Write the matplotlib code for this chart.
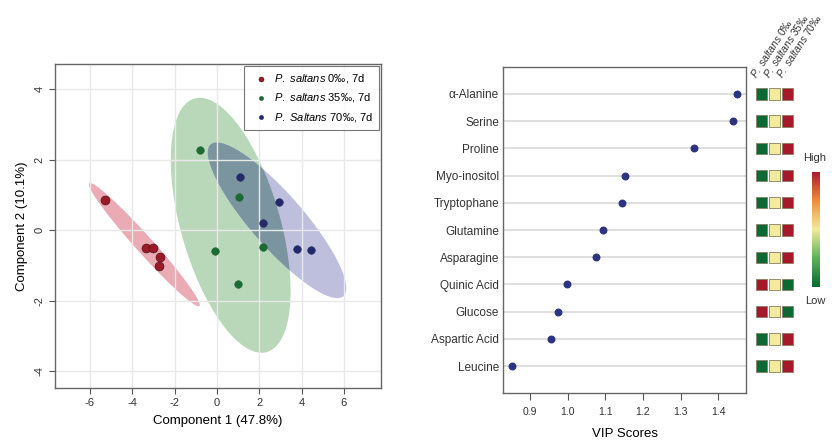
import numpy as np
import matplotlib
matplotlib.use("Agg")
import matplotlib.pyplot as plt
from matplotlib.colors import LinearSegmentedColormap
from matplotlib.patches import Rectangle

plt.rcParams["font.family"] = ["Liberation Sans", "DejaVu Sans"]
plt.rcParams["mathtext.fontset"] = "custom"
plt.rcParams["mathtext.it"] = "Liberation Sans:italic"
plt.rcParams["mathtext.rm"] = "Liberation Sans"
plt.rcParams["axes.unicode_minus"] = False

# -------- score plot data --------
groups = [r"$\it{P.\ saltans}$ 0‰, 7d", r"$\it{P.\ saltans}$ 35‰, 7d", r"$\it{P.\ Saltans}$ 70‰, 7d"]
red_x = [-5.29, -3.37, -3.01, -2.71, -2.74]
red_y = [0.85, -0.50, -0.50, -0.76, -1.01]
green_x = [-0.81, 1.05, -0.10, 2.18, 1.00]
green_y = [2.28, 0.94, -0.58, -0.48, -1.54]
blue_x = [1.08, 2.92, 2.16, 3.78, 4.46]
blue_y = [1.52, 0.81, 0.20, -0.54, -0.56]

# confidence ellipses: centre, half-extent in x / y, correlation
ell_cx = [-3.43, 0.65, 2.84]
ell_cy = [-0.41, 0.14, 0.28]
ell_rx = [2.62, 2.83, 3.27]
ell_ry = [1.75, 3.62, 2.21]
ell_rho = [-0.978, -0.515, -0.87]

# -------- VIP data --------
metabolites = ["α-Alanine", "Serine", "Proline", "Myo-inositol", "Tryptophane",
               "Glutamine", "Asparagine", "Quinic Acid", "Glucose",
               "Aspartic Acid", "Leucine"]
vip = [1.450, 1.438, 1.336, 1.151, 1.143, 1.094, 1.075, 0.999, 0.975, 0.957, 0.853]
# relative level per group (0 = low, 0.5 = mid, 1 = high)
heat = [[0.0, 0.5, 1.0], [0.0, 0.5, 1.0], [0.0, 0.5, 1.0], [0.0, 0.5, 1.0],
        [0.0, 0.5, 1.0], [0.0, 0.5, 1.0], [0.0, 0.5, 1.0], [1.0, 0.5, 0.0],
        [1.0, 0.5, 0.0], [0.0, 0.5, 1.0], [0.0, 0.5, 1.0]]
heat_cols = [r"$\it{P.\ saltans}$ 0‰", r"$\it{P.\ saltans}$ 35‰", r"$\it{P.\ saltans}$ 70‰"]

pt_colors = ["#9c1a28", "#1e6a34", "#222a6c"]
fill_colors = ["#eaabb4", "#b9d8b9", "#bdbfdc"]
overlap_color = "#7a95a0"

cmap = LinearSegmentedColormap.from_list(
    "lowhigh", ["#0a6a34", "#5fb25a", "#f3ec9c", "#f08a3a", "#a8182c"])


def ellipse_xy(cx, cy, rx, ry, rho, n=200):
    t = np.linspace(0, 2 * np.pi, n)
    x = cx + rx * np.cos(t)
    y = cy + ry * (rho * np.cos(t) + np.sqrt(1 - rho ** 2) * np.sin(t))
    return x, y


fig = plt.figure(figsize=(8.32, 4.43), dpi=100)

# ================= left: score plot =================
ax = fig.add_axes([0.0661, 0.1242, 0.3918, 0.7314])
patches = []
for i in range(3):
    ex, ey = ellipse_xy(ell_cx[i], ell_cy[i], ell_rx[i], ell_ry[i], ell_rho[i])
    p, = ax.fill(ex, ey, color=fill_colors[i], lw=0, zorder=1)
    patches.append(p)
# darker region where green and blue overlap
ex, ey = ellipse_xy(ell_cx[2], ell_cy[2], ell_rx[2], ell_ry[2], ell_rho[2])
ov, = ax.fill(ex, ey, color=overlap_color, lw=0, zorder=1)
ov.set_clip_path(patches[1])

xs = [red_x, green_x, blue_x]
ys = [red_y, green_y, blue_y]
sizes = [42, 30, 30]
for i in range(3):
    ax.scatter(xs[i], ys[i], s=sizes[i], color=pt_colors[i],
               edgecolor="#3a1010" if i == 0 else pt_colors[i],
               linewidth=0.4, zorder=3, label=groups[i])

ax.set_xlim(-7.65, 7.75)
ax.set_ylim(-4.48, 4.72)
ax.set_xticks([-6, -4, -2, 0, 2, 4, 6])
ax.set_yticks([-4, -2, 0, 2, 4])
ax.grid(True, color="#e8e8e8", lw=1.0)
ax.tick_params(labelsize=8, length=4, color="#555555", labelcolor="#333333", width=0.8)
plt.setp(ax.get_yticklabels(), rotation=90, va="center")
for s in ax.spines.values():
    s.set_color("#666666")
    s.set_linewidth(1.0)
ax.set_xlabel("Component 1 (47.8%)", fontsize=9.5, labelpad=5)
ax.set_ylabel("Component 2 (10.1%)", fontsize=9.5, labelpad=5)
leg = ax.legend(loc="upper right", fontsize=8, frameon=True, fancybox=False,
                borderaxespad=0.15, handletextpad=0.1, markerscale=0.55,
                labelspacing=0.55, borderpad=0.6)
leg.get_frame().set_edgecolor("#555555")
leg.get_frame().set_linewidth(0.8)

# ================= right: VIP plot =================
ax2 = fig.add_axes([0.6049, 0.1122, 0.2917, 0.7372])
rows = np.arange(len(metabolites))
for r in rows:
    ax2.axhline(r, color="#d9d9d9", lw=1.2, zorder=1)
ax2.scatter(vip, rows, s=22, color="#2c3380", zorder=3)
ax2.set_xlim(0.829, 1.4735)
ax2.set_ylim(11, -1)
ax2.set_yticks(rows)
ax2.set_yticklabels(metabolites, fontsize=8.5, color="#333333")
ax2.tick_params(axis="y", length=0, pad=3)
ax2.set_xticks([0.9, 1.0, 1.1, 1.2, 1.3, 1.4])
ax2.set_xticklabels(["0.9", "1.0", "1.1", "1.2", "1.3", "1.4"])
ax2.tick_params(axis="x", labelsize=7.5, length=5, color="#555555", labelcolor="#333333", pad=5)
for s in ax2.spines.values():
    s.set_color("#666666")
    s.set_linewidth(1.0)
ax2.set_xlabel("VIP Scores", fontsize=9.5, labelpad=8)

# heat squares beside each metabolite
axh = fig.add_axes([755 / 832, 0.1122, 39 / 832, 0.7372])
axh.set_xlim(0, 3)
axh.set_ylim(11, -1)
axh.axis("off")
sq_w, sq_h = 0.88, 0.415
for r, levels in enumerate(heat):
    for j, v in enumerate(levels):
        axh.add_patch(Rectangle((j + 0.06, r - sq_h / 2), sq_w, sq_h,
                                facecolor=cmap(float(v)), edgecolor="#8a7e60", lw=0.6))
for j, lab in enumerate(heat_cols):
    axh.text(j + 0.2, -0.5, lab, rotation=57, rotation_mode="anchor",
             ha="left", va="bottom", fontsize=7.5, color="#333333", clip_on=False)

# colour key
axc = fig.add_axes([811.7 / 832, (443 - 287.3) / 443, 7.6 / 832, 115.6 / 443])
axc.imshow(np.linspace(0, 1, 256).reshape(-1, 1), origin="lower", aspect="auto", cmap=cmap)
axc.axis("off")
fig.text(815 / 832, 1 - 158 / 443, "High", ha="center", va="center", fontsize=8, color="#333333")
fig.text(815 / 832, 1 - 301 / 443, "Low", ha="center", va="center", fontsize=8, color="#333333")

fig.savefig("out.png", dpi=100)
